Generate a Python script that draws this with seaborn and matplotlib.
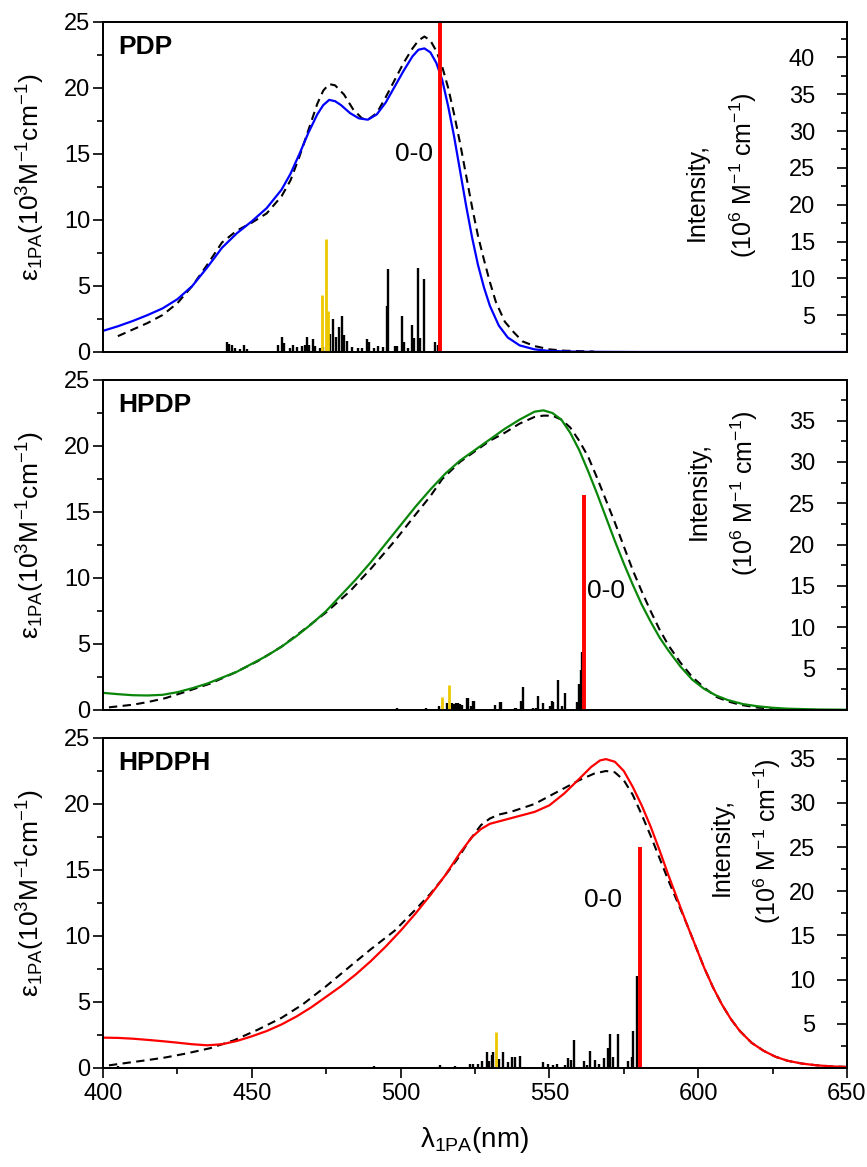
import matplotlib
matplotlib.use("Agg")
import matplotlib.pyplot as plt
import seaborn as sns
from matplotlib.ticker import MultipleLocator

sns.set_theme(style="ticks", rc={
    "axes.edgecolor": "black", "axes.linewidth": 1.3, "text.color": "black",
    "axes.labelcolor": "black", "xtick.color": "black", "ytick.color": "black",
})
plt.rcParams['font.family'] = ['Liberation Sans', 'DejaVu Sans']
plt.rcParams['mathtext.fontset'] = 'custom'
plt.rcParams['mathtext.rm'] = 'Liberation Sans'
plt.rcParams['mathtext.it'] = 'Liberation Sans:italic'
plt.rcParams['mathtext.bf'] = 'Liberation Sans:bold'

# ---------------- PDP ----------------
pdp_calc_x = [400, 405, 410, 415, 420, 425, 430, 435, 440, 445, 450, 455, 460, 463, 466, 469, 472, 474,
              476, 478, 480, 483, 486, 489, 492, 495, 498, 501, 504, 506, 508, 510, 512, 514, 516, 518,
              520, 522, 524, 526, 528, 530, 533, 536, 540, 545, 550, 560, 580, 650]
pdp_calc_y = [1.6, 1.95, 2.35, 2.8, 3.3, 4.0, 5.0, 6.4, 7.9, 9.0, 9.9, 10.9, 12.3, 13.5, 15.0, 16.6, 18.0, 18.7,
              19.1, 19.0, 18.7, 18.1, 17.7, 17.6, 18.0, 18.9, 20.1, 21.3, 22.4, 22.9, 23.0, 22.7, 21.9, 20.6, 18.6, 16.3,
              13.7, 11.1, 8.7, 6.6, 4.9, 3.5, 2.0, 1.1, 0.5, 0.2, 0.08, 0.02, 0.0, 0.0]
pdp_exp_x = [405, 410, 415, 420, 425, 430, 435, 440, 445, 450, 455, 460, 463, 466, 469, 472, 474, 476, 478,
             481, 484, 487, 489, 492, 495, 498, 501, 504, 506, 508, 510, 512, 514, 516, 518, 520, 522, 524,
             526, 528, 530, 532, 535, 538, 541, 545, 550, 555, 565]
pdp_exp_y = [1.2, 1.7, 2.2, 2.8, 3.7, 5.0, 6.6, 8.3, 9.2, 9.8, 10.5, 11.8, 13.0, 14.8, 16.8, 18.8, 19.8, 20.3, 20.2,
             19.5, 18.4, 17.7, 17.6, 18.1, 19.3, 20.6, 21.9, 23.0, 23.6, 23.9, 23.6, 22.8, 21.6, 20.0, 18.0, 15.8, 13.4, 11.0,
             8.8, 7.0, 5.3, 3.8, 2.3, 1.5, 0.8, 0.45, 0.2, 0.1, 0.03]
pdp_stick_x = [441.5, 442.3, 443.2, 444.5, 446.0, 447.3, 448.5,
               458.8, 460.2, 460.8, 462.8, 463.8, 465.2, 466.9, 467.8, 468.5, 469.2, 470.6, 471.2, 472.9, 473.9,
               476.3, 477.3, 478.2, 479.2, 480.2, 481.0, 482.0, 483.7, 485.7, 487.0, 488.7, 489.3, 491.0, 492.4,
               494.0, 495.4, 495.8, 498.0, 498.8, 500.5, 501.2, 502.5, 503.8, 504.5, 505.8, 506.4, 507.9, 511.6, 512.5]
pdp_stick_h = [1.3, 1.1, 0.9, 0.5, 0.4, 0.9, 0.4,
               1.0, 2.0, 1.2, 0.6, 0.9, 0.7, 0.8, 1.0, 2.1, 1.0, 1.8, 0.8, 0.6, 0.7,
               2.5, 4.5, 2.1, 3.4, 4.9, 2.3, 1.5, 0.7, 0.6, 0.5, 1.7, 1.4, 0.6, 0.8,
               0.7, 6.3, 11.2, 0.8, 0.8, 4.9, 1.3, 0.5, 3.7, 1.9, 11.4, 1.9, 9.9, 1.4, 1.0]
pdp_yellow_x = [473.6, 474.8, 475.6]
pdp_yellow_h = [7.7, 15.4, 5.5]
pdp_00_x = [513.2]
pdp_00_h = [60.0]

# ---------------- HPDP ----------------
hpdp_calc_x = [400, 405, 410, 415, 420, 425, 430, 435, 440, 445, 450, 455, 460, 465, 470, 475, 480, 485, 490,
               495, 500, 505, 510, 515, 520, 525, 530, 535, 540, 545, 548, 551, 554, 557, 560, 563, 566, 569,
               572, 575, 578, 581, 584, 587, 590, 594, 598, 602, 606, 610, 615, 620, 625, 630, 640, 650]
hpdp_calc_y = [1.3, 1.2, 1.12, 1.1, 1.15, 1.35, 1.65, 2.0, 2.45, 2.9, 3.5, 4.1, 4.8, 5.6, 6.5, 7.5, 8.7, 9.9, 11.2,
               12.6, 14.0, 15.4, 16.7, 17.9, 18.9, 19.7, 20.5, 21.3, 22.0, 22.6, 22.7, 22.5, 22.0, 21.0, 19.7, 18.1, 16.4, 14.6,
               12.8, 11.1, 9.5, 8.0, 6.7, 5.5, 4.5, 3.3, 2.3, 1.6, 1.1, 0.75, 0.45, 0.28, 0.17, 0.1, 0.04, 0.02]
hpdp_exp_x = [402, 410, 415, 421, 428, 436, 444, 452, 460, 467, 475, 483, 490, 498, 505, 510, 514, 520, 525,
              530, 535, 540, 545, 548, 551, 554, 557, 560, 563, 566, 569, 572, 575, 578, 581, 584, 587, 590,
              594, 598, 602, 606, 610, 614, 620, 630, 640]
hpdp_exp_y = [0.2, 0.4, 0.6, 0.9, 1.4, 2.0, 2.8, 3.7, 4.8, 6.0, 7.4, 9.0, 10.7, 12.8, 14.8, 16.2, 17.5, 18.8, 19.6,
              20.4, 21.0, 21.7, 22.2, 22.3, 22.3, 22.0, 21.4, 20.4, 19.2, 17.6, 15.9, 14.2, 12.4, 10.6, 9.0, 7.5, 6.1, 4.9,
              3.6, 2.5, 1.7, 1.0, 0.65, 0.4, 0.18, 0.05, 0.0]
hpdp_stick_x = [498.9, 508.7, 513.0, 515.5, 517.3, 518.0, 518.6, 519.3, 520.0, 520.7, 522.2, 522.8, 523.5,
                524.2, 524.7, 531.7, 533.4, 533.9, 538.4, 538.9, 540.3, 541.2, 544.4, 545.5, 546.3, 547.7,
                550.2, 550.8, 551.3, 552.8, 554.1, 555.2, 559.2, 560.0, 560.6, 561.1]
hpdp_stick_h = [0.3, 0.3, 0.5, 0.8, 0.8, 0.7, 0.8, 0.8, 0.7, 0.6, 1.5, 1.5, 0.5,
                1.1, 1.1, 0.6, 1.0, 1.0, 0.3, 0.3, 1.1, 2.8, 0.2, 0.3, 1.7, 0.8,
                0.5, 1.1, 1.0, 3.6, 0.5, 2.0, 1.0, 3.1, 4.8, 7.0]
hpdp_yellow_x = [513.8, 516.4]
hpdp_yellow_h = [1.6, 3.0]
hpdp_00_x = [561.6]
hpdp_00_h = [26.0]

# ---------------- HPDPH ----------------
hpdph_calc_x = [400, 405, 410, 415, 420, 425, 430, 435, 440, 445, 450, 455, 460, 465, 470, 475, 480, 485, 490,
                495, 500, 505, 510, 515, 520, 524, 527, 530, 535, 540, 545, 550, 555, 560, 564, 567, 569, 572,
                575, 578, 581, 584, 587, 590, 593, 596, 599, 602, 605, 608, 611, 614, 618, 622, 626, 630, 635,
                640, 645, 650]
hpdph_calc_y = [2.3, 2.28, 2.22, 2.13, 2.03, 1.92, 1.8, 1.72, 1.8, 2.05, 2.4, 2.8, 3.3, 3.9, 4.6, 5.4, 6.2, 7.1, 8.1,
                9.2, 10.4, 11.7, 13.1, 14.6, 16.3, 17.5, 18.1, 18.5, 18.8, 19.1, 19.4, 19.9, 20.8, 21.9, 22.8, 23.3, 23.4, 23.2,
                22.5, 21.3, 19.9, 18.3, 16.5, 14.6, 12.8, 11.0, 9.3, 7.6, 6.1, 4.8, 3.7, 2.8, 1.9, 1.3, 0.85, 0.55, 0.33,
                0.2, 0.12, 0.08]
hpdph_exp_x = [402, 410, 415, 421, 428, 436, 444, 452, 460, 467, 475, 483, 490, 498, 505, 510, 514, 519, 523,
               527, 530, 533, 537, 541, 545, 550, 555, 560, 565, 569, 572, 575, 578, 581, 584, 587, 590, 593,
               596, 599, 602, 605, 608, 611, 614, 618, 622, 626, 630, 635, 640, 645, 650]
hpdph_exp_y = [0.2, 0.45, 0.6, 0.8, 1.1, 1.5, 2.1, 2.9, 3.8, 4.8, 6.2, 7.7, 9.0, 10.4, 12.0, 13.2, 14.3, 15.8, 17.2,
               18.4, 18.9, 19.2, 19.4, 19.7, 20.0, 20.6, 21.2, 21.8, 22.3, 22.5, 22.4, 21.8, 20.7, 19.2, 17.6, 15.9, 14.2, 12.6,
               11.0, 9.3, 7.6, 6.1, 4.8, 3.7, 2.8, 1.9, 1.3, 0.85, 0.55, 0.33, 0.2, 0.12, 0.08]
hpdph_stick_x = [405.0, 491.1, 513.2, 518.3, 523.3, 524.2, 526.1, 527.2, 528.9, 529.8, 530.6, 531.1, 533.2,
                 534.5, 536.2, 537.3, 538.4, 540.0, 548.0, 549.5, 551.3, 552.4, 555.2, 556.4, 557.1, 558.4,
                 561.7, 562.5, 563.6, 565.3, 566.5, 568.3, 569.8, 570.4, 571.5, 573.2, 576.5, 577.6, 578.2, 579.3]
hpdph_stick_h = [0.2, 0.2, 0.35, 0.2, 0.4, 0.45, 0.4, 0.8, 1.8, 0.8, 1.5, 1.8, 1.0,
                 1.8, 0.7, 1.2, 1.3, 1.4, 0.7, 0.4, 0.3, 0.5, 0.3, 1.1, 0.9, 3.2,
                 0.75, 0.3, 1.9, 0.9, 0.4, 1.1, 2.3, 3.9, 1.3, 3.9, 0.75, 1.3, 4.2, 10.4]
hpdph_yellow_x = [531.9]
hpdph_yellow_h = [4.1]
hpdph_00_x = [580.3]
hpdph_00_h = [25.0]

panel_names = ["PDP", "HPDP", "HPDPH"]
right_ticks = [[5, 10, 15, 20, 25, 30, 35, 40], [5, 10, 15, 20, 25, 30, 35], [5, 10, 15, 20, 25, 30, 35]]
right_top = [44.8, 39.9, 37.35]

panels = [
    dict(calc=(pdp_calc_x, pdp_calc_y), exp=(pdp_exp_x, pdp_exp_y), sticks=(pdp_stick_x, pdp_stick_h),
         yellow=(pdp_yellow_x, pdp_yellow_h), zz=(pdp_00_x, pdp_00_h), color="#0000ff",
         zz_text=(511.0, 15.0, "right"), lab_pos=((0.798, 0.485), (0.860, 0.536))),
    dict(calc=(hpdp_calc_x, hpdp_calc_y), exp=(hpdp_exp_x, hpdp_exp_y), sticks=(hpdp_stick_x, hpdp_stick_h),
         yellow=(hpdp_yellow_x, hpdp_yellow_h), zz=(hpdp_00_x, hpdp_00_h), color="#0a870a",
         zz_text=(562.5, 9.0, "left"), lab_pos=((0.801, 0.664), (0.862, 0.658))),
    dict(calc=(hpdph_calc_x, hpdph_calc_y), exp=(hpdph_exp_x, hpdph_exp_y), sticks=(hpdph_stick_x, hpdph_stick_h),
         yellow=(hpdph_yellow_x, hpdph_yellow_h), zz=(hpdph_00_x, hpdph_00_h), color="#ff0000",
         zz_text=(561.5, 12.7, "left"), lab_pos=((0.831, 0.670), (0.893, 0.688))),
]

W, H = 867, 1167
fig = plt.figure(figsize=(W / 100, H / 100), dpi=100)
left_px, right_px = 103, 847
tops = [22, 380, 738]
ph = 330
FS = 17

eps_label = r'ε$_{\mathrm{1PA}}$(10$^{3}$M$^{-1}$cm$^{-1}$)'

for i, p in enumerate(panels):
    ax = fig.add_axes([left_px / W, 1 - (tops[i] + ph) / H, (right_px - left_px) / W, ph / H])
    ax.set_facecolor("white")
    # absorption curves (left axis)
    sns.lineplot(x=p["exp"][0], y=p["exp"][1], ax=ax, color="black", lw=1.5,
                 linestyle=(0, (4, 2.6)), estimator=None, sort=False)
    sns.lineplot(x=p["calc"][0], y=p["calc"][1], ax=ax, color=p["color"], lw=1.6,
                 estimator=None, sort=False)
    ax.set_xlim(400, 650)
    ax.set_ylim(0, 25)
    ax.yaxis.set_major_locator(MultipleLocator(5))
    ax.yaxis.set_minor_locator(MultipleLocator(2.5))
    ax.xaxis.set_major_locator(MultipleLocator(50))
    ax.xaxis.set_minor_locator(MultipleLocator(25))
    ax.tick_params(axis="y", which="major", direction="out", length=7, width=1.2, labelsize=FS,
                   right=False, pad=2)
    ax.tick_params(axis="y", which="minor", direction="out", length=4, width=1.2, right=False, left=True)
    if i < 2:
        ax.tick_params(axis="x", which="both", bottom=False, top=False, labelbottom=False)
    else:
        ax.tick_params(axis="x", which="major", direction="out", length=7, width=1.2, labelsize=FS,
                       top=False, pad=4)
        ax.tick_params(axis="x", which="minor", direction="out", length=4, width=1.2, top=False, bottom=True)
        ax.set_xlabel(r'λ$_{\mathrm{1PA}}$(nm)', fontsize=20, labelpad=14)
    ax.set_ylabel(eps_label, fontsize=19)
    ax.yaxis.set_label_coords(-0.075, 0.53)

    ax.text(0.02, 0.925, panel_names[i], transform=ax.transAxes, fontsize=19,
            fontweight="bold", ha="left", va="center")
    zx, zy, zha = p["zz_text"]
    ax.text(zx, zy, "0-0", fontsize=19, ha=zha, va="center")
    (lx1, ly1), (lx2, ly2) = p["lab_pos"]
    ax.text(lx1, ly1, "Intensity,", transform=ax.transAxes, rotation=90, fontsize=18,
            ha="center", va="center")
    ax.text(lx2, ly2, r'(10$^{6}$ M$^{-1}$ cm$^{-1}$)', transform=ax.transAxes, rotation=90,
            fontsize=18, ha="center", va="center")

    # stick spectra (right axis)
    ax2 = ax.twinx()
    ax2.vlines(p["sticks"][0], 0, p["sticks"][1], colors="black", lw=1.7)
    ax2.vlines(p["yellow"][0], 0, p["yellow"][1], colors="#ecc800", lw=2.0)
    ax2.vlines(p["zz"][0], 0, p["zz"][1], colors="#ff0000", lw=2.8)
    ax2.set_ylim(0, right_top[i])
    ax2.set_yticks(right_ticks[i])
    ax2.yaxis.set_minor_locator(MultipleLocator(2.5))
    ax2.tick_params(axis="y", which="major", direction="in", length=7, width=1.2,
                    labelsize=FS, pad=-23)
    ax2.tick_params(axis="y", which="minor", direction="in", length=4, width=1.2)
    for lab in ax2.get_yticklabels():
        lab.set_horizontalalignment("right")
    ax2.grid(False)
    for s in ax.spines.values():
        s.set_linewidth(1.3)
    for s in ax2.spines.values():
        s.set_linewidth(1.3)

fig.savefig("out.png", dpi=100, facecolor="white")
